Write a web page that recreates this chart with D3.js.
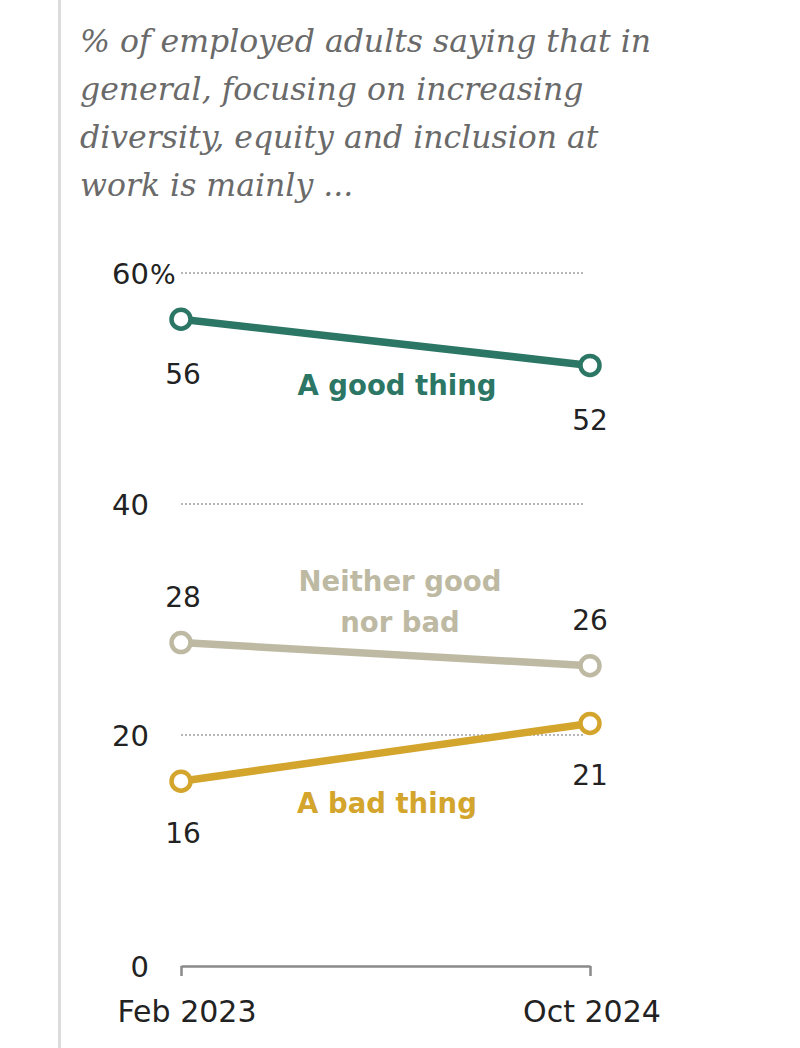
<!DOCTYPE html>
<html>
<head>
<meta charset="utf-8">
<script src="https://cdn.jsdelivr.net/npm/d3@7"></script>
<style>
html,body{margin:0;padding:0;background:#fff;}
svg{display:block;}
</style>
</head>
<body>
<script>
const titleLines = [
  "% of employed adults saying that in",
  "general, focusing on increasing",
  "diversity, equity and inclusion at",
  "work is mainly ..."
];
const periods = ["Feb 2023", "Oct 2024"];
const goodValues = [56, 52];
const neitherValues = [28, 26];
const badValues = [16, 21];
const yTicks = [0, 20, 40, 60];
const seriesNames = ["A good thing", "Neither good nor bad", "A bad thing"];

const W = 800, H = 1048;
const svg = d3.select("body").append("svg").attr("width", W).attr("height", H);

// left rule
svg.append("rect").attr("x", 58).attr("y", 0).attr("width", 3).attr("height", H).attr("fill", "#dcdcdc");

// title
const title = svg.append("text")
  .attr("font-family", "'DejaVu Serif', serif")
  .attr("font-style", "italic")
  .attr("font-size", 31.5)
  .attr("fill", "#6a6a6a");
titleLines.forEach((t, i) => {
  title.append("tspan").attr("x", 80).attr("y", 52 + i * 48).text(t);
});

const x = d3.scalePoint().domain(periods).range([181, 590]);
const y = d3.scaleLinear().domain([0, 60]).range([966, 273]);

const sans = "'DejaVu Sans', sans-serif";

// grid lines
svg.append("g").selectAll("line").data(yTicks.filter(d => d > 0)).join("line")
  .attr("x1", 181).attr("x2", 585)
  .attr("y1", d => y(d)).attr("y2", d => y(d))
  .attr("stroke", "#a0a0a0").attr("stroke-width", 1.3).attr("stroke-dasharray", "2,2");

// y tick labels
const yl = svg.append("g").attr("font-family", sans).attr("font-size", 29).attr("fill", "#222");
yTicks.forEach(d => {
  yl.append("text").attr("x", 149).attr("y", y(d) + 11).attr("text-anchor", "end").text(d);
  if (d === 60) yl.append("text").attr("x", 150).attr("y", y(d) + 11).attr("font-size", 27).text("%");
});

// x axis baseline
const xAxis = d3.axisBottom(x).tickSize(10).tickSizeOuter(0).tickFormat("");
const gx = svg.append("g").attr("transform", `translate(0,${y(0)})`).call(xAxis);
gx.select(".domain").attr("stroke", "#8a8a8a").attr("stroke-width", 2.5);
gx.selectAll(".tick line").attr("stroke", "#8a8a8a").attr("stroke-width", 2.5);

// x labels
svg.append("g").attr("font-family", sans).attr("font-size", 30).attr("fill", "#222")
  .selectAll("text").data(periods).join("text")
  .attr("x", (d, i) => x(d) + (i === 0 ? 6 : 2)).attr("y", 1022).attr("text-anchor", "middle").text(d => d);

const series = [
  {name: seriesNames[0], values: goodValues, color: "#2b7664"},
  {name: seriesNames[1], values: neitherValues, color: "#bdb9a2"},
  {name: seriesNames[2], values: badValues, color: "#d4a52d"}
];

const line = d3.line().x((d, i) => x(periods[i])).y(d => y(d));

series.forEach(s => {
  svg.append("path").datum(s.values).attr("d", line)
    .attr("fill", "none").attr("stroke", s.color).attr("stroke-width", 7.5);
  svg.append("g").selectAll("circle").data(s.values).join("circle")
    .attr("cx", (d, i) => x(periods[i])).attr("cy", d => y(d)).attr("r", 9.5)
    .attr("fill", "#fff").attr("stroke", s.color).attr("stroke-width", 4.5);
});

// value labels: offsets (above = negative)
const valueOffsets = [[+65, +65], [-36, -36], [+62, +62]];
const vl = svg.append("g").attr("font-family", sans).attr("font-size", 28).attr("fill", "#222").attr("text-anchor", "middle");
series.forEach((s, si) => {
  s.values.forEach((v, i) => {
    vl.append("text").attr("x", x(periods[i]) + (i === 0 ? 2 : 0))
      .attr("y", y(v) + valueOffsets[si][i]).text(v);
  });
});

// series labels
const lab = svg.append("g").attr("font-family", sans).attr("font-weight", "bold").attr("font-size", 27.5).attr("text-anchor", "middle");
lab.append("text").attr("x", 397).attr("y", 395).attr("fill", series[0].color).text("A good thing");
const nl = lab.append("text").attr("fill", series[1].color);
nl.append("tspan").attr("x", 400).attr("y", 591).text("Neither good");
nl.append("tspan").attr("x", 400).attr("y", 632).text("nor bad");
lab.append("text").attr("x", 387).attr("y", 813).attr("fill", series[2].color).text("A bad thing");
</script>
</body>
</html>
